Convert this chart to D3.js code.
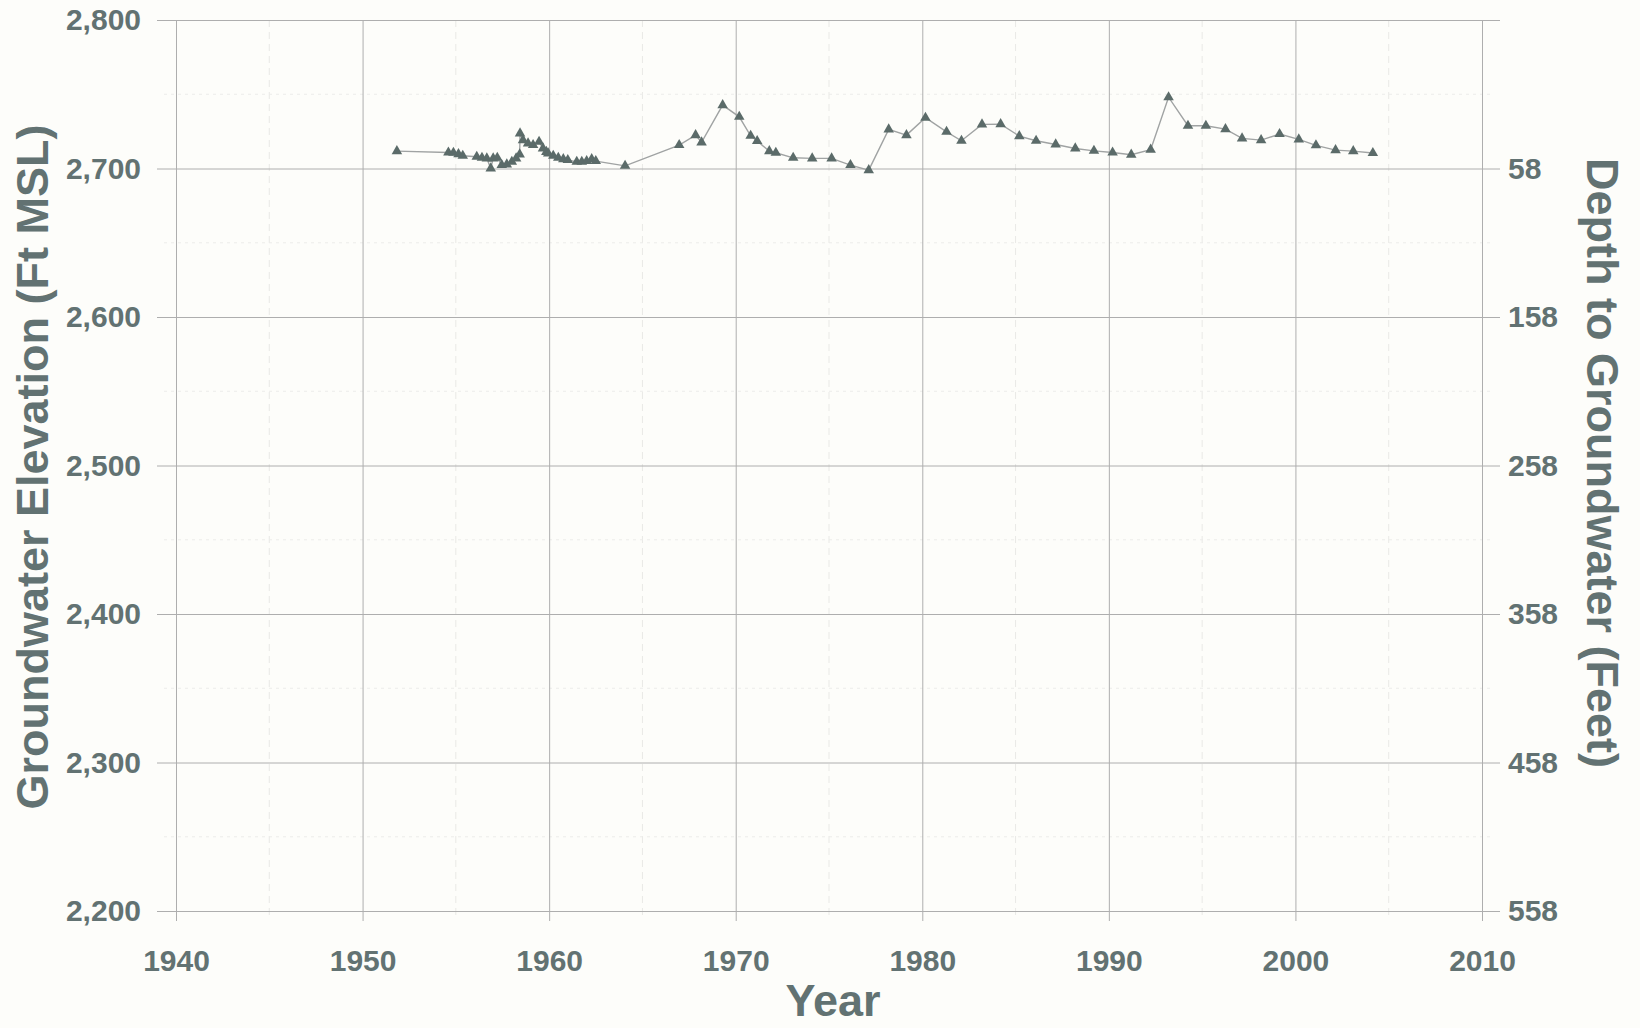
<!DOCTYPE html>
<html>
<head>
<meta charset="utf-8">
<script src="https://cdn.jsdelivr.net/npm/d3@7"></script>
<style>
  body { margin: 0; background: #fdfdfa; }
  svg text { font-family: "Liberation Sans", Arial, Helvetica, sans-serif; font-weight: bold; fill: #627272; }
</style>
</head>
<body>
<svg id="chart" width="1640" height="1028"></svg>
<script>
// measured water levels (decimal year, ft MSL)
const years = [
  1951.84, 1954.6, 1954.87, 1955.14, 1955.37, 1956.12, 1956.4, 1956.66, 1956.87, 1957.0,
  1957.22, 1957.46, 1957.73, 1958.0, 1958.23, 1958.42, 1958.44, 1958.6, 1958.87, 1959.14,
  1959.46, 1959.67, 1959.85, 1959.95, 1960.22, 1960.49, 1960.76, 1961.0, 1961.48, 1961.75,
  1962.01, 1962.28, 1962.5, 1964.07, 1966.97, 1967.85, 1968.17, 1969.3, 1970.19, 1970.8,
  1971.15, 1971.8, 1972.15, 1973.08, 1974.1, 1975.14, 1976.15, 1977.13, 1978.2, 1979.15,
  1980.17, 1981.3, 1982.1, 1983.2, 1984.2, 1985.2, 1986.1, 1987.15, 1988.2, 1989.2,
  1990.2, 1991.2, 1992.24, 1993.2, 1994.24, 1995.2, 1996.25, 1997.14, 1998.16, 1999.15,
  2000.18, 2001.1, 2002.15, 2003.1, 2004.15
];
const elevations = [
  2711.7, 2710.8, 2710.6, 2709.7, 2708.6, 2707.9, 2707.2, 2706.8, 2700.1, 2706.8,
  2707.2, 2702.3, 2702.8, 2704.5, 2706.8, 2709.5, 2723.6, 2719.1, 2716.9, 2715.8,
  2718.0, 2713.5, 2711.2, 2710.2, 2708.6, 2707.2, 2706.3, 2705.7, 2704.5, 2704.5,
  2705.0, 2706.3, 2705.0, 2701.8, 2715.8, 2722.5, 2717.6, 2742.7, 2734.8, 2722.0,
  2718.5, 2711.7, 2710.6, 2707.2, 2706.8, 2706.8, 2702.3, 2698.9, 2726.3, 2722.5,
  2734.2, 2724.7, 2718.7, 2729.7, 2729.9, 2721.8, 2718.7, 2716.2, 2713.5, 2711.9,
  2710.8, 2709.3, 2712.7, 2748.0, 2728.8, 2728.8, 2726.5, 2720.3, 2719.1, 2723.2,
  2719.6, 2715.6, 2712.4, 2711.7, 2710.4
];

const yearTicks = [1940, 1950, 1960, 1970, 1980, 1990, 2000, 2010];
const minorYearTicks = [1945, 1955, 1965, 1975, 1985, 1995, 2005];
const elevTicks = [2200, 2300, 2400, 2500, 2600, 2700, 2800];
const minorElevTicks = [2250, 2350, 2450, 2550, 2650, 2750];
const depthTicks = [558, 458, 358, 258, 158, 58];

const svg = d3.select("#chart");

// plot box
const plotL = 176, plotR = 1482, plotT = 20, plotB = 911;

const x = d3.scaleLinear().domain([1940, 2010]).range([plotL, plotR]);
const y = d3.scaleLinear().domain([2200, 2800]).range([plotB, plotT]);
// depth axis is the same scale, flipped around the well datum
const yDepth = d3.scaleLinear().domain([558, -42]).range([plotB, plotT]);

// minor grid (very faint in the original)
svg.append("g").selectAll("line")
    .data(minorYearTicks)
    .enter()
    .append("line")
    .attr("x1", d => x(d)).attr("x2", d => x(d))
    .attr("y1", plotT).attr("y2", plotB + 8)
    .attr("stroke", "#e9e9e6")
    .attr("stroke-dasharray", "7,5");

svg.append("g").selectAll("line")
    .data(minorElevTicks)
    .enter()
    .append("line")
    .attr("x1", plotL - 12).attr("x2", plotR + 8)
    .attr("y1", d => y(d)).attr("y2", d => y(d))
    .attr("stroke", "#ececea")
    .attr("stroke-dasharray", "3,4");

// left axis, its ticks double as the horizontal grid
const yAxis = svg.append("g")
    .attr("transform", `translate(${plotL - 19},0)`)
    .call(d3.axisLeft(y)
        .tickValues(elevTicks)
        .tickFormat(d3.format(","))
        .tickSize(-(plotR - plotL + 37))
        .tickPadding(16));

// bottom axis, ticks are the vertical grid
const xAxis = svg.append("g")
    .attr("transform", `translate(0,${plotB + 10})`)
    .call(d3.axisBottom(x)
        .tickValues(yearTicks)
        .tickFormat(d3.format("d"))
        .tickSize(-(plotB + 10 - plotT))
        .tickPadding(29));

const depthAxis = svg.append("g")
    .attr("transform", `translate(${plotR},0)`)
    .call(d3.axisRight(yDepth)
        .tickValues(depthTicks)
        .tickSize(0)
        .tickPadding(26));

[yAxis, xAxis, depthAxis].forEach(a => {
    a.select(".domain").remove();
    a.selectAll("line").attr("stroke", "#aeaeae").attr("stroke-width", 1);
    a.selectAll("text")
        .attr("font-size", "30px")
        .attr("fill", "#627272")
        .style("font-family", "'Liberation Sans', Arial, sans-serif")
        .style("font-weight", "bold");
});

// series
const pts = years.map((yr, i) => ({year: yr, elev: elevations[i]}));

svg.append("path")
    .datum(pts)
    .attr("fill", "none")
    .attr("stroke", "#a0a3a3")
    .attr("stroke-width", 1.4)
    .attr("d", d3.line().x(d => x(d.year)).y(d => y(d.elev)));

svg.append("g").selectAll("path")
    .data(pts)
    .enter()
    .append("path")
    .attr("transform", d => `translate(${x(d.year)},${y(d.elev)})`)
    .attr("d", d3.symbol().type(d3.symbolTriangle).size(48))
    .attr("fill", "#5b6b69");

// titles
svg.append("text")
    .attr("transform", "translate(48,467) rotate(-90)")
    .attr("text-anchor", "middle")
    .attr("font-size", "45px")
    .text("Groundwater Elevation (Ft MSL)");

svg.append("text")
    .attr("transform", "translate(1587,463) rotate(90)")
    .attr("text-anchor", "middle")
    .attr("font-size", "45px")
    .text("Depth to Groundwater (Feet)");

svg.append("text")
    .attr("x", 833)
    .attr("y", 1016)
    .attr("text-anchor", "middle")
    .attr("font-size", "45px")
    .text("Year");
</script>
</body>
</html>
